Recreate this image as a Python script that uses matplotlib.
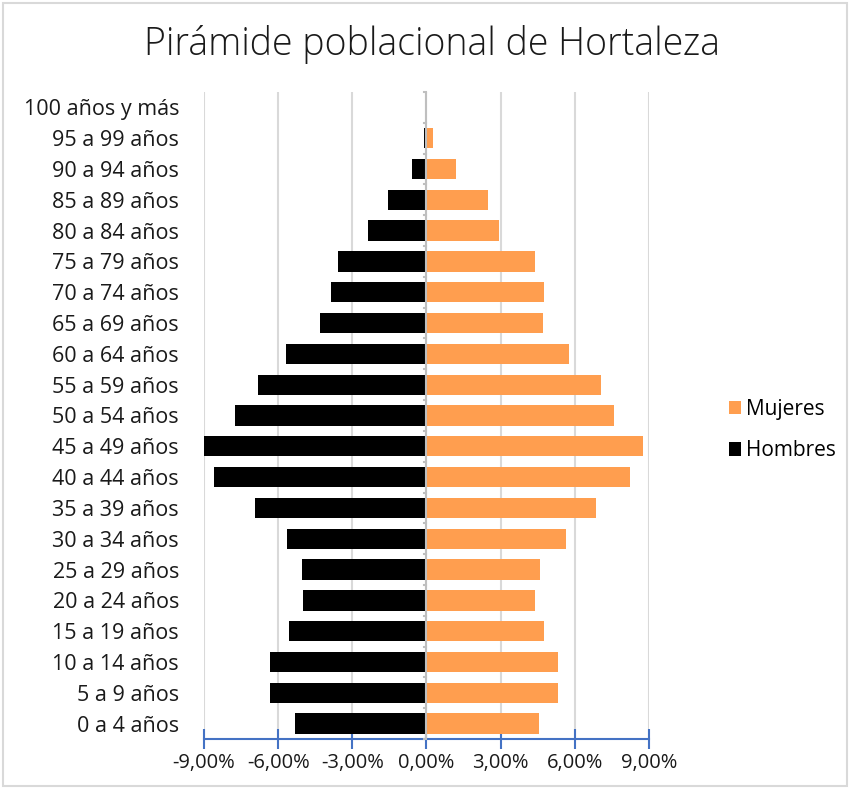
import numpy as np
import matplotlib.pyplot as plt
from matplotlib.patches import Rectangle
from matplotlib.ticker import FuncFormatter

plt.rcParams['font.family'] = ['Open Sans', 'DejaVu Sans']

# Datos (% sobre población total)
grupos = ["0 a 4 años", "5 a 9 años", "10 a 14 años", "15 a 19 años",
          "20 a 24 años", "25 a 29 años", "30 a 34 años", "35 a 39 años",
          "40 a 44 años", "45 a 49 años", "50 a 54 años", "55 a 59 años",
          "60 a 64 años", "65 a 69 años", "70 a 74 años", "75 a 79 años",
          "80 a 84 años", "85 a 89 años", "90 a 94 años", "95 a 99 años",
          "100 años y más"]
mujeres = [4.57, 5.34, 5.34, 4.77, 4.37, 4.60, 5.66, 6.87, 8.25, 8.74,
           7.60, 7.04, 5.78, 4.73, 4.77, 4.40, 2.95, 2.47, 1.20, 0.28, 0.02]
hombres = [-5.30, -6.32, -6.32, -5.55, -4.98, -5.02, -5.63, -6.92, -8.60, -9.00,
           -7.73, -6.80, -5.70, -4.29, -3.85, -3.56, -2.35, -1.54, -0.60, -0.12, -0.01]

color_muj = "#FF9E4F"
color_hom = "#000000"

fig = plt.figure(figsize=(8.5, 7.89), dpi=100)
ax = fig.add_axes([0.24, 0.0634, 0.5235, 0.82])

y = np.arange(len(grupos))
ax.barh(y, mujeres, height=0.66, color=color_muj, label="Mujeres", zorder=3)
ax.barh(y, hombres, height=0.66, color=color_hom, label="Hombres", zorder=3)

ax.set_xlim(-9, 9)
ax.set_ylim(-0.5, len(grupos) - 0.5)
ax.set_xticks([-9, -6, -3, 0, 3, 6, 9])
ax.xaxis.set_major_formatter(FuncFormatter(lambda v, p: f"{v:.2f}%".replace(".", ",")))
ax.grid(axis="x", color="#D9D9D9", linewidth=1.5, zorder=0)

ax.set_yticks(y)
ax.set_yticklabels(grupos)
ax.tick_params(axis="y", length=0, pad=18, labelsize=15.5, colors="#1a1a1a")
ax.tick_params(axis="x", direction="inout", length=14, width=1.5, color="#4472C4",
               labelsize=14.5, labelcolor="#1a1a1a", pad=3)

for s in ["top", "right", "left"]:
    ax.spines[s].set_visible(False)
ax.spines["bottom"].set_color("#4472C4")
ax.spines["bottom"].set_linewidth(1.5)

# eje vertical en el cero con marcas entre categorías
ax.axvline(0, color="#BFBFBF", linewidth=1.5, zorder=4)
for yy in np.arange(-0.5, len(grupos), 1.0):
    ax.plot([-0.12, 0], [yy, yy], color="#BFBFBF", linewidth=1.5, zorder=4, clip_on=False)

fig.suptitle("Pirámide poblacional de Hortaleza", x=0.508, y=0.968, fontsize=27,
             fontweight="light", color="#1a1a1a")

handles, labels = ax.get_legend_handles_labels()
fig.legend(handles, labels, loc="center left", bbox_to_anchor=(0.835, 0.455),
           frameon=False, fontsize=15, handlelength=0.6, handleheight=0.6,
           handletextpad=0.25, labelspacing=1.0)

fig.patches.append(Rectangle((0.004, 0.004), 0.992, 0.992, transform=fig.transFigure,
                             fill=False, edgecolor="#D9D9D9", linewidth=1.5))

plt.savefig("out.png", dpi=100)
